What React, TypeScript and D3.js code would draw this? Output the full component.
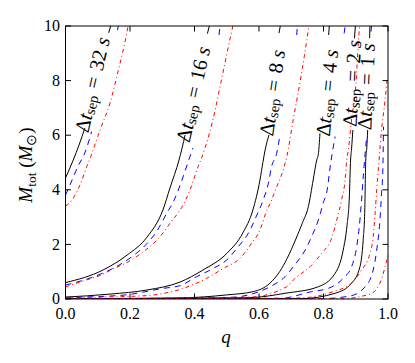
import React from 'react';
import * as d3 from 'd3';

const W = 415;
const H = 363;

const xTicks = [0, 0.2, 0.4, 0.6, 0.8, 1.0];
const xTickLabels = ['0.0', '0.2', '0.4', '0.6', '0.8', '1.0'];
const yTicks = [0, 2, 4, 6, 8, 10];
const yTickLabels = ['0', '2', '4', '6', '8', '10'];

// [q, M] points; NaN marks a gap (label break)
const black32 = [[0, 4.43], [0.024, 5.09], [0.042, 5.64], [0.06, 6.26], [NaN, NaN], [0.134, 9.75], [0.14, 10.0]];
const blue32 = [[0, 3.81], [0.014, 4.18], [0.039, 4.87], [0.06, 5.35], [0.081, 6.13], [NaN, NaN], [0.161, 9.85], [0.164, 10.0]];
const red32 = [[0, 3.41], [0.012, 3.51], [0.045, 4.18], [0.066, 4.85], [0.078, 5.21], [0.107, 6.19], [0.138, 7.18], [0.164, 8.39], [0.19, 9.74], [0.194, 10.0]];

const black16 = [[0, 0.6], [0.116, 1.06], [0.191, 1.61], [0.253, 2.27], [0.302, 3.26], [0.324, 4.07], [0.352, 5.09], [0.371, 6.01], [NaN, NaN], [0.44, 9.72], [0.446, 10.0]];
const blue16 = [[0, 0.51], [0.067, 0.73], [0.116, 0.95], [0.163, 1.22], [0.206, 1.55], [0.246, 1.95], [0.284, 2.5], [0.312, 3.1], [0.337, 3.63], [0.358, 4.25], [0.377, 4.91], [0.395, 5.53], [NaN, NaN], [0.476, 9.67], [0.479, 10.0]];
const red16 = [[0, 0.44], [0.054, 0.66], [0.107, 0.86], [0.147, 1.1], [0.194, 1.36], [0.24, 1.72], [0.287, 2.2], [0.327, 2.82], [0.36, 3.35], [0.386, 3.99], [0.411, 4.84], [0.423, 5.2], [0.457, 6.56], [0.488, 8.28], [0.515, 9.79], [0.519, 10.0]];

const black8 = [[0, 0.07], [0.138, 0.18], [0.253, 0.33], [0.355, 0.62], [0.426, 1.06], [0.501, 1.68], [0.55, 2.42], [0.581, 3.26], [0.603, 4.36], [0.612, 5.0], [0.619, 5.46], [0.631, 6.01], [NaN, NaN], [0.662, 9.74], [0.666, 10.0]];
const blue8 = [[0, 0.06], [0.169, 0.13], [0.303, 0.39], [0.355, 0.49], [0.407, 0.82], [0.458, 1.12], [0.5, 1.43], [0.536, 1.92], [0.567, 2.41], [0.591, 3.01], [0.613, 3.63], [0.629, 4.24], [0.639, 4.85], [0.655, 5.34], [0.665, 6.01], [NaN, NaN], [0.717, 9.67], [0.719, 10.0]];
const red8 = [[0, 0.05], [0.231, 0.11], [0.365, 0.39], [0.438, 0.76], [0.489, 1.12], [0.541, 1.49], [0.577, 2.04], [0.603, 2.53], [0.619, 3.08], [0.639, 3.63], [0.655, 4.11], [0.675, 4.73], [0.686, 5.21], [0.706, 6.56], [0.732, 8.27], [0.753, 9.85], [0.755, 10.0]];

const black4 = [[0, 0.01], [0.355, 0.04], [0.5, 0.15], [0.582, 0.27], [0.634, 0.58], [0.664, 1.0], [0.687, 1.48], [0.713, 2.16], [0.735, 2.8], [0.753, 3.38], [0.768, 4.36], [0.779, 5.09], [0.784, 5.3], [0.789, 6.07], [NaN, NaN], [0.816, 9.67], [0.818, 10.0]];
const blue4 = [[0, 0.0], [0.51, 0.06], [0.634, 0.45], [0.681, 0.82], [0.706, 1.18], [0.743, 1.79], [0.763, 2.28], [0.784, 2.89], [0.799, 3.51], [0.813, 4.11], [0.818, 4.6], [0.836, 5.95], [NaN, NaN], [0.864, 9.73], [0.867, 10.0]];
const red4 = [[0, 0.0], [0.572, 0.07], [0.686, 0.45], [0.712, 0.76], [0.758, 1.18], [0.794, 1.67], [0.825, 2.22], [0.841, 2.89], [0.856, 3.63], [0.867, 4.36], [0.872, 5.09], [0.877, 5.46], [0.887, 6.56], [0.9, 7.78], [0.91, 9.73], [0.912, 10.0]];

const black2 = [[0, 0.0], [0.572, 0.05], [0.681, 0.21], [0.784, 0.45], [0.836, 0.94], [0.861, 1.79], [0.873, 2.7], [0.88, 3.7], [0.884, 5.09], [0.887, 5.5], [0.891, 6.19], [NaN, NaN], [0.896, 9.55], [0.899, 10.0]];
const blue2 = [[0, 0.0], [0.665, 0.02], [0.763, 0.27], [0.815, 0.39], [0.861, 0.76], [0.887, 1.18], [0.903, 1.92], [0.911, 2.65], [0.918, 3.63], [0.924, 4.6], [0.934, 5.95], [NaN, NaN], [0.947, 9.79], [0.949, 10.0]];
const red2 = [[0, 0.0], [0.727, 0.04], [0.83, 0.27], [0.887, 0.58], [0.918, 1.06], [0.944, 1.67], [0.954, 2.28], [0.96, 3.14], [0.965, 3.99], [0.97, 4.73], [0.98, 6.19], [0.991, 7.29], [0.997, 8.02]];

const black1 = [[0, 0.0], [0.727, 0.01], [0.836, 0.21], [0.887, 0.58], [0.913, 1.18], [0.923, 2.16], [0.928, 3.26], [0.931, 5.09], [0.934, 5.5], [0.937, 6.19], [NaN, NaN], [0.943, 9.56], [0.944, 10.0]];
const blue1 = [[0, 0.0], [0.789, 0.01], [0.882, 0.11], [0.929, 0.45], [0.954, 1.06], [0.965, 1.79], [0.975, 2.89], [0.98, 3.87], [0.984, 4.73], [0.986, 6.31]];
const red1 = [[0, 0.0], [0.851, 0.01], [0.944, 0.18], [0.975, 0.58], [0.991, 1.18], [1.0, 1.61]];

const blackCurves = [black32, black16, black8, black4, black2, black1];
const blueCurves = [blue32, blue16, blue8, blue4, blue2, blue1];
const redCurves = [red32, red16, red8, red4, red2, red1];

const labelTexts = ['32', '16', '8', '4', '2', '1'];
// label anchors in data units (q, M) and rotation in degrees
const labelQ = [0.083, 0.396, 0.641, 0.811, 0.888, 0.932];
const labelM = [7.85, 7.5, 7.55, 7.55, 7.9, 7.78];
const labelAngle = [-77, -77.5, -82, -84.5, -87, -87.5];

const FONT = 'Liberation Serif';

export default function App() {
  const x = d3.scaleLinear().domain([0, 1]).range([65.5, 388]);
  const y = d3.scaleLinear().domain([0, 10]).range([299, 26]);
  const line = d3
    .line<number[]>()
    .defined((d) => !isNaN(d[0]))
    .x((d) => x(d[0]))
    .y((d) => y(d[1]))
    .curve(d3.curveMonotoneX);

  const [x0, x1] = x.range();
  const [y0, y1] = y.range();
  const tl = 5.5;

  return (
    <svg width={W} height={H} style={{ position: 'absolute', left: 0, top: 0, background: '#fff' }}>
      <defs>
        <clipPath id="plotclip">
          <rect x={x0} y={y1} width={x1 - x0} height={y0 - y1} />
        </clipPath>
      </defs>
      <rect x={0} y={0} width={W} height={H} fill="#fff" />
      <g clipPath="url(#plotclip)" fill="none">
        {blackCurves.map((c, i) => (
          <path key={'k' + i} d={line(c as any) || ''} stroke="#000" strokeWidth={1} />
        ))}
        {blueCurves.map((c, i) => (
          <path key={'b' + i} d={line(c as any) || ''} stroke="#0000ff" strokeWidth={1} strokeDasharray="6,5" />
        ))}
        {redCurves.map((c, i) => (
          <path key={'r' + i} d={line(c as any) || ''} stroke="#ff0000" strokeWidth={1} strokeDasharray="4,3,1,3" />
        ))}
      </g>
      {labelTexts.map((t, i) => (
        <text
          key={'l' + i}
          transform={`translate(${x(labelQ[i])},${y(labelM[i])}) rotate(${labelAngle[i]})`}
          textAnchor="middle"
          dominantBaseline="central"
          style={{ fontFamily: FONT }}
          fontSize={20.5}
          fill="#000"
        >
          <tspan>Δ</tspan>
          <tspan fontStyle="italic">t</tspan>
          <tspan fontSize={14.5} dy={4}>sep</tspan>
          <tspan dy={-4}>{'\u2004=\u2004' + t + '\u2005'}</tspan>
          <tspan fontStyle="italic">s</tspan>
        </text>
      ))}
      {/* frame */}
      <rect x={x0} y={y1} width={x1 - x0} height={y0 - y1} fill="none" stroke="#000" strokeWidth={1} />
      {xTicks.map((t, i) => (
        <g key={'xt' + i}>
          <line x1={x(t)} x2={x(t)} y1={y0} y2={y0 - tl} stroke="#000" />
          <line x1={x(t)} x2={x(t)} y1={y1} y2={y1 + tl} stroke="#000" />
          <text x={x(t)} y={319} textAnchor="middle" style={{ fontFamily: FONT }} fontSize={16}>
            {xTickLabels[i]}
          </text>
        </g>
      ))}
      {yTicks.map((t, i) => (
        <g key={'yt' + i}>
          <line x1={x0} x2={x0 + tl} y1={y(t)} y2={y(t)} stroke="#000" />
          <line x1={x1} x2={x1 - tl} y1={y(t)} y2={y(t)} stroke="#000" />
          <text x={60} y={y(t)} dy="0.33em" textAnchor="end" style={{ fontFamily: FONT }} fontSize={16}>
            {yTickLabels[i]}
          </text>
        </g>
      ))}
      <text x={226} y={343} textAnchor="middle" style={{ fontFamily: FONT }} fontSize={19} fontStyle="italic">
        q
      </text>
      <text transform="translate(32,165) rotate(-90)" textAnchor="middle" style={{ fontFamily: FONT }} fontSize={19}>
        <tspan fontStyle="italic">M</tspan>
        <tspan fontSize={13.5} dy={4}>tot</tspan>
        <tspan dy={-4}>{' ('}</tspan>
        <tspan fontStyle="italic">M</tspan>
        <tspan fontSize={13.5} dy={4}>⊙</tspan>
        <tspan dy={-4}>)</tspan>
      </text>
    </svg>
  );
}
